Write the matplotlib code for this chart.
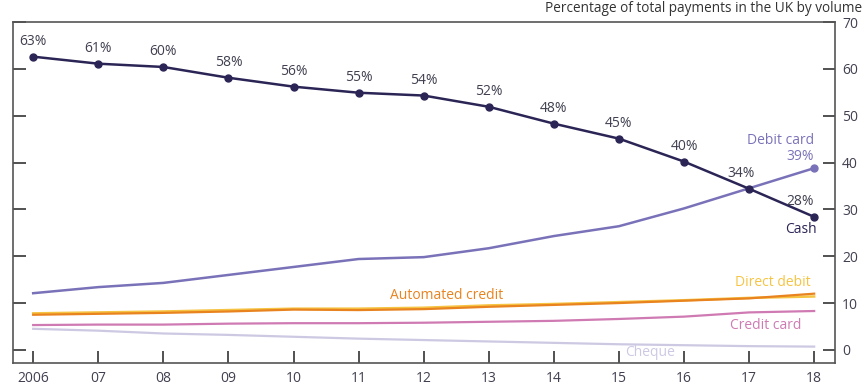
import numpy as np
import matplotlib.pyplot as plt

plt.rcParams['font.family'] = ['Open Sans', 'DejaVu Sans']

years = ['2006', '07', '08', '09', '10', '11', '12', '13', '14', '15', '16', '17', '18']
cash = [62.6, 61.1, 60.4, 58.1, 56.2, 54.9, 54.3, 51.9, 48.3, 45.1, 40.2, 34.4, 28.4]
cash_labels = ['63%', '61%', '60%', '58%', '56%', '55%', '54%', '52%', '48%', '45%', '40%', '34%', '28%']
debit_card = [12.1, 13.4, 14.3, 16.0, 17.7, 19.4, 19.8, 21.7, 24.3, 26.4, 30.2, 34.5, 38.8]
automated_credit = [7.5, 7.7, 7.9, 8.2, 8.6, 8.5, 8.7, 9.2, 9.6, 10.0, 10.5, 11.0, 12.0]
direct_debit = [7.8, 8.0, 8.2, 8.5, 8.8, 8.8, 9.0, 9.5, 9.8, 10.2, 10.6, 11.1, 11.4]
credit_card = [5.3, 5.4, 5.4, 5.6, 5.7, 5.7, 5.8, 6.0, 6.2, 6.6, 7.1, 8.0, 8.3]
cheque = [4.5, 4.1, 3.5, 3.2, 2.8, 2.4, 2.1, 1.8, 1.5, 1.2, 1.0, 0.8, 0.7]

c_cash = '#2b2556'
c_debit = '#7a72b9'
c_auto = '#e8831f'
c_dd = '#f6c443'
c_credit = '#cf7ab2'
c_cheque = '#cdc9e3'
c_text = '#404050'

x = np.arange(len(years))
fs = 10

fig = plt.figure(figsize=(8.65, 3.88), dpi=100)
ax = fig.add_axes([13 / 865, 25 / 388, 822 / 865, 341 / 388])

ax.plot(x, cheque, color=c_cheque, lw=1.6)
ax.plot(x, credit_card, color=c_credit, lw=1.6)
ax.plot(x, direct_debit, color=c_dd, lw=1.8)
ax.plot(x, automated_credit, color=c_auto, lw=1.6)
ax.plot(x, debit_card, color=c_debit, lw=1.8)
ax.plot(x[-1], debit_card[-1], 'o', color=c_debit, ms=5)
ax.plot(x, cash, color=c_cash, lw=1.8, marker='o', ms=5)

# cash % labels above points
for i, lab in enumerate(cash_labels):
    dx = 0
    if i == 11:
        dx = -6
    elif i == 12:
        dx = -10
    ax.annotate(lab, (x[i], cash[i]), xytext=(dx, 5.5), textcoords='offset points',
                ha='center', va='bottom', fontsize=fs, color=c_text)

ax.text(12.0, 44.8, 'Debit card', color=c_debit, fontsize=fs, ha='right', va='center')
ax.text(11.99, 41.2, '39%', color=c_debit, fontsize=fs, ha='right', va='center')
ax.text(11.79, 25.6, 'Cash', color=c_cash, fontsize=fs, ha='center', va='center')
ax.text(6.36, 11.6, 'Automated credit', color=c_auto, fontsize=fs, ha='center', va='center')
ax.text(11.95, 14.3, 'Direct debit', color=c_dd, fontsize=fs, ha='right', va='center')
ax.text(11.25, 5.3, 'Credit card', color=c_credit, fontsize=fs, ha='center', va='center')
ax.text(9.48, -0.6, 'Cheque', color=c_cheque, fontsize=fs, ha='center', va='center')

ax.set_xlim(-0.31, 12.32)
ax.set_ylim(-2.8, 70)
ax.set_xticks(x)
ax.set_xticklabels(years)
ax.set_yticks(np.arange(0, 71, 10))

ax.tick_params(axis='x', direction='in', length=9, width=1.2, color='#333333',
               labelsize=fs, labelcolor=c_text, pad=6)
ax.tick_params(axis='y', direction='in', length=9, width=1.2, color='#333333',
               left=True, right=True, labelleft=False, labelright=True,
               labelsize=fs, labelcolor=c_text, pad=5)
for s in ax.spines.values():
    s.set_color('#555555')
    s.set_linewidth(1.2)

fig.text(862 / 865, 1 - 9 / 388, 'Percentage of total payments in the UK by volume',
         ha='right', va='center', fontsize=9.8, color='#333333')

fig.savefig('out.png', dpi=100)
